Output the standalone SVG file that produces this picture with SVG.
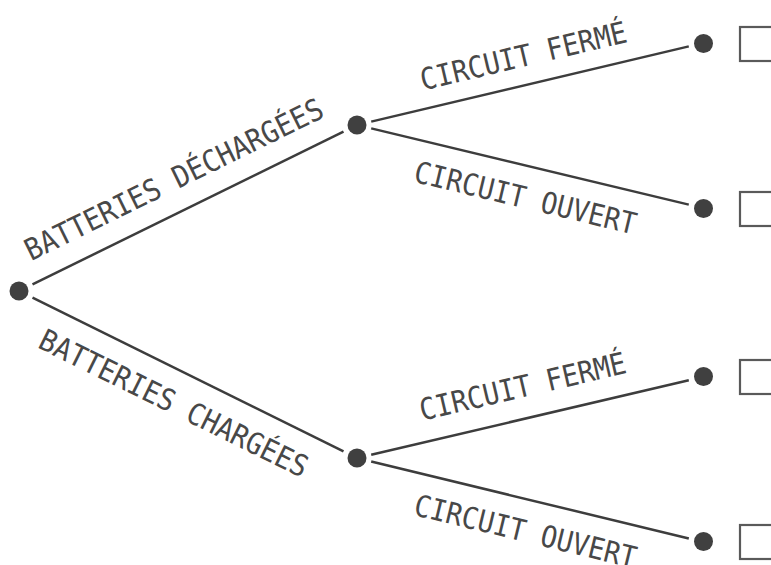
<svg xmlns="http://www.w3.org/2000/svg" width="771" height="565" viewBox="0 0 771 565">
<style>
.dot{fill:#404040}
.edge{stroke:#3d3d3d;stroke-width:2.5;fill:none;stroke-linecap:butt}
.box{fill:#fff;stroke:#5a5a5a;stroke-width:2.2}
.lbl{font-family:"DejaVu Sans Mono","Liberation Mono",monospace;font-size:30px;fill:#484848;text-anchor:middle}
</style>
<rect width="771" height="565" fill="#fff"/>
<g id="connectors">
<line class="edge" x1="32.5" y1="284.4" x2="343.5" y2="131.6"/>
<line class="edge" x1="32.5" y1="297.6" x2="343.5" y2="451.4"/>
<line class="edge" x1="371.2" y1="121.6" x2="688.8" y2="46.4"/>
<line class="edge" x1="371.2" y1="128.4" x2="688.8" y2="204.6"/>
<line class="edge" x1="371.2" y1="454.7" x2="688.8" y2="380.3"/>
<line class="edge" x1="371.2" y1="461.5" x2="688.8" y2="538.5"/>
</g>
<g id="labels">
<text class="lbl" transform="translate(178.5,188.7) rotate(-26.16) scale(0.91,1)">BATTERIES DÉCHARGÉES</text>
<text class="lbl" transform="translate(169.2,412.6) rotate(26.29) scale(0.91,1)">BATTERIES CHARGÉES</text>
<text class="lbl" transform="translate(525.8,66.1) rotate(-13.33) scale(0.9,1)">CIRCUIT FERMÉ</text>
<text class="lbl" transform="translate(523.1,208) rotate(13.49) scale(0.9,1)">CIRCUIT OUVERT</text>
<text class="lbl" transform="translate(525.1,396.7) rotate(-13.18) scale(0.9,1)">CIRCUIT FERMÉ</text>
<text class="lbl" transform="translate(523,541.5) rotate(13.65) scale(0.9,1)">CIRCUIT OUVERT</text>
</g>
<g id="root"><circle class="dot" cx="19" cy="291" r="9.5"/></g>
<g id="node-decharge"><circle class="dot" cx="357" cy="125" r="9.5"/></g>
<g id="node-charge"><circle class="dot" cx="357" cy="458" r="9.5"/></g>
<g id="leaf-1"><circle class="dot" cx="703.5" cy="43.5" r="9.5"/><rect class="box" x="740" y="27" width="34" height="34"/></g>
<g id="leaf-2"><circle class="dot" cx="703.5" cy="208.5" r="9.5"/><rect class="box" x="740" y="192" width="34" height="34"/></g>
<g id="leaf-3"><circle class="dot" cx="703.5" cy="376.5" r="9.5"/><rect class="box" x="740" y="360" width="34" height="34"/></g>
<g id="leaf-4"><circle class="dot" cx="703.5" cy="541.5" r="9.5"/><rect class="box" x="740" y="525" width="34" height="34"/></g>
</svg>
